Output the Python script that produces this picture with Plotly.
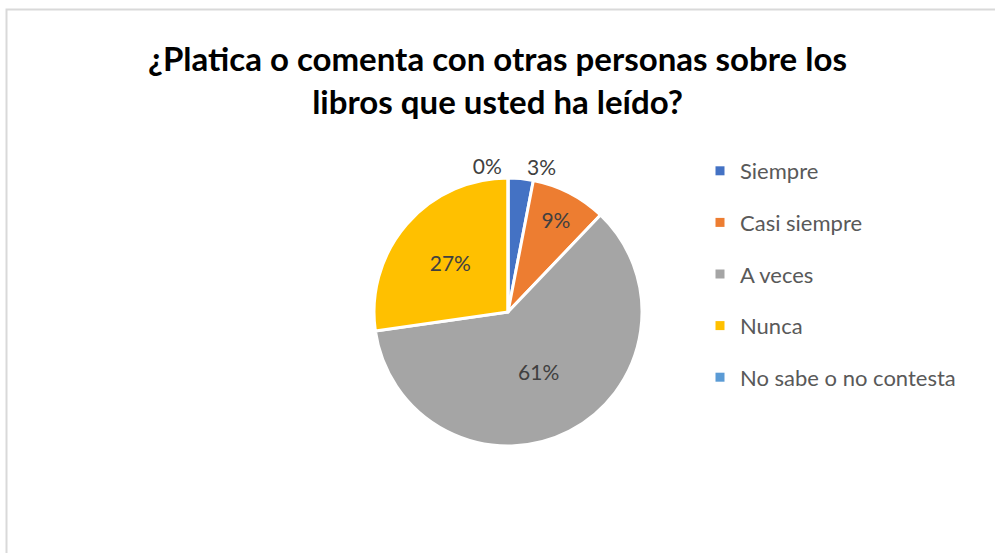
import plotly.graph_objects as go

categories = ["Siempre", "Casi siempre", "A veces", "Nunca", "No sabe o no contesta"]
counts = [1, 3, 20, 9, 0]
colors = ["#4472C4", "#ED7D31", "#A5A5A5", "#FFC000", "#5B9BD5"]
title_text = "¿Platica o comenta con otras personas sobre los<br>libros que usted ha leído?"

W, H = 995, 553
total = sum(counts)
pct_text = [f"{round(100 * c / total)}%" for c in counts]

cx, cy, R = 508, 312, 134

fig = go.Figure()
fig.add_trace(go.Pie(
    labels=categories,
    values=counts,
    text=pct_text,
    textinfo="text",
    sort=False,
    direction="clockwise",
    rotation=0,
    marker=dict(colors=colors, line=dict(color="white", width=3)),
    textposition=["outside", "inside", "inside", "inside", "outside"],
    insidetextorientation="horizontal",
    textfont=dict(family="Lato", size=21, color="#404040"),
    outsidetextfont=dict(family="Lato", size=21, color="#404040"),
    showlegend=False,
    hoverinfo="label+percent",
    domain=dict(x=[(cx - R) / W, (cx + R) / W], y=[(H - cy - R) / H, (H - cy + R) / H]),
))

# legend entries
for i, (cat, col) in enumerate(zip(categories, colors)):
    fig.add_trace(go.Scatter(
        x=[None], y=[None], mode="markers", name=cat,
        marker=dict(symbol="square", size=9, color=col),
        legendgroup=f"g{i}", showlegend=True,
    ))

fig.update_layout(
    width=W, height=H,
    margin=dict(l=0, r=0, t=0, b=0),
    paper_bgcolor="white", plot_bgcolor="white",
    title=dict(text=title_text, x=0.5, xref="paper", y=1 - 71 / H, yref="paper",
               xanchor="center", yanchor="middle",
               font=dict(family="Lato", size=33, color="#000000", weight="bold")),
    xaxis=dict(visible=False), yaxis=dict(visible=False),
    legend=dict(x=700 / W, y=1 - 150 / H, xanchor="left", yanchor="top",
                font=dict(family="Lato", size=22, color="#595959"),
                tracegroupgap=20, bgcolor="rgba(0,0,0,0)"),
    shapes=[dict(type="rect", xref="paper", yref="paper",
                 x0=6.5 / W, x1=1.05, y0=-0.05, y1=1 - 9.5 / H,
                 line=dict(color="#D9D9D9", width=2), layer="below")],
)

fig.write_html("out.html", config={"displayModeBar": False},
               post_script="document.body.style.margin='0';")
